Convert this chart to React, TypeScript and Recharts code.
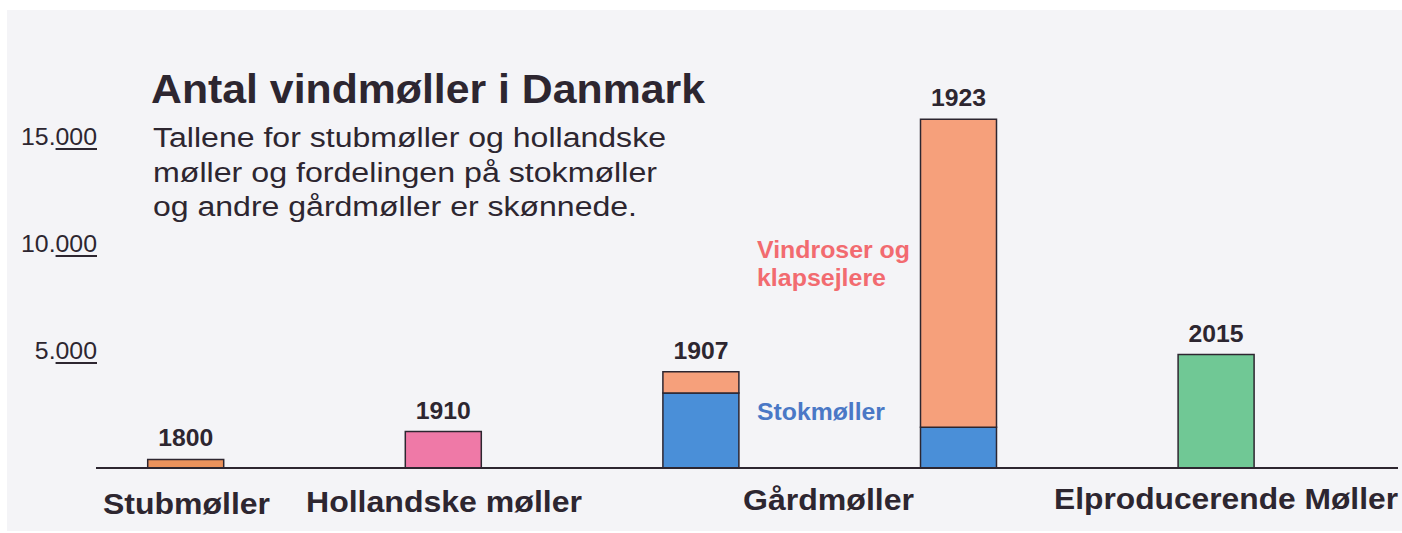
import { Bar, BarChart, Cell, LabelList, XAxis, YAxis } from 'recharts'

// Antal vindmøller i Danmark (skønnede tal)
const years = ['1800', '1910', '1907', '1923', '2015']
const stokmoller = [0, 0, 3500, 1900, 0]
const ovrige = [400, 1700, 1000, 14400, 5300]
const yTicks = [5000, 10000, 15000]

const groupLabels = ['Stubmøller', 'Hollandske møller', 'Gårdmøller', 'Elproducerende Møller']
const subtitle = [
  'Tallene for stubmøller og hollandske',
  'møller og fordelingen på stokmøller',
  'og andre gårdmøller er skønnede.',
]

const topColors = ['#eb925c', '#ef79a7', '#f6a07b', '#f6a07b', '#70c895']
const ink = '#2d2630'
const font = '"Liberation Sans", Arial, sans-serif'

const data = years.map((year, i) => ({ year, stok: stokmoller[i], top: ovrige[i] }))

const fmtTick = (v: number) => `${v / 1000}.000`
const digitW = 0.556
const dotW = 0.278

function YTick(props: any) {
  const { y, payload } = props
  const label = fmtTick(payload.value)
  const fs = 23
  const stretch = 1.08
  const natural = (label.length - 1) * digitW * fs + dotW * fs
  const right = 97
  const uw = 3 * digitW * fs * stretch
  return (
    <g>
      <text
        x={right}
        y={y - 2}
        textAnchor="end"
        fontFamily={font}
        fontSize={fs}
        fill={ink}
        textLength={natural * stretch}
        lengthAdjust="spacingAndGlyphs"
      >
        {label}
      </text>
      <line x1={right - uw} x2={right} y1={y + 2} y2={y + 2} stroke={ink} strokeWidth={2} />
    </g>
  )
}

function YearLabel(props: any) {
  const { x, y, width, value } = props
  return (
    <text
      x={x + width / 2}
      y={y - 13}
      textAnchor="middle"
      fontFamily={font}
      fontWeight="bold"
      fontSize={23}
      fill={ink}
      textLength={55}
      lengthAdjust="spacingAndGlyphs"
    >
      {value}
    </text>
  )
}

export default function App() {
  return (
    <div style={{ position: 'absolute', left: 0, top: 0, width: 1402, height: 533, background: '#ffffff' }}>
      <div
        style={{ position: 'absolute', left: 7, top: 10, width: 1395, height: 521, background: '#f4f4f7' }}
      />
      <div style={{ position: 'absolute', left: 0, top: 0 }}>
        <BarChart
          width={1402}
          height={533}
          data={data}
          margin={{ top: 93.5, right: 4, bottom: 0, left: 0 }}
          barSize={76}
        >
          <XAxis
            dataKey="year"
            tick={false}
            tickLine={false}
            axisLine={{ stroke: ink, strokeWidth: 2 }}
            height={65}
            padding={{ left: -39.3, right: 53.3 }}
          />
          <YAxis
            width={96}
            domain={[0, 17500]}
            ticks={yTicks}
            axisLine={false}
            tickLine={false}
            tick={<YTick />}
          />
          <Bar dataKey="stok" stackId="a" fill="#4a8fd8" stroke={ink} strokeWidth={1.5} isAnimationActive={false} />
          <Bar dataKey="top" stackId="a" stroke={ink} strokeWidth={1.5} isAnimationActive={false}>
            {data.map((_, i) => (
              <Cell key={i} fill={topColors[i]} />
            ))}
            <LabelList dataKey="year" content={<YearLabel />} />
          </Bar>
        </BarChart>
      </div>
      <svg
        width={1402}
        height={533}
        style={{ position: 'absolute', left: 0, top: 0, pointerEvents: 'none' }}
        fontFamily={font}
      >
        <text x={151} y={103} fontSize={40} fontWeight="bold" fill={ink} textLength={554} lengthAdjust="spacingAndGlyphs">
          Antal vindmøller i Danmark
        </text>
        {subtitle.map((line, i) => (
          <text
            key={i}
            x={153}
            y={147 + i * 34.5}
            fontSize={27}
            fill={ink}
            textLength={[513, 504, 484][i]}
            lengthAdjust="spacingAndGlyphs"
          >
            {line}
          </text>
        ))}
        <text x={757} y={258} fontSize={24.5} fontWeight="bold" fill="#f26b70" textLength={153} lengthAdjust="spacingAndGlyphs">
          Vindroser og
        </text>
        <text x={757} y={286} fontSize={24.5} fontWeight="bold" fill="#f26b70" textLength={129} lengthAdjust="spacingAndGlyphs">
          klapsejlere
        </text>
        <text x={757} y={420} fontSize={23} fontWeight="bold" fill="#4a78c6" textLength={128} lengthAdjust="spacingAndGlyphs">
          Stokmøller
        </text>
        <text x={103} y={514} fontSize={29} fontWeight="bold" fill={ink} textLength={167} lengthAdjust="spacingAndGlyphs">
          {groupLabels[0]}
        </text>
        <text x={306} y={512} fontSize={29} fontWeight="bold" fill={ink} textLength={276} lengthAdjust="spacingAndGlyphs">
          {groupLabels[1]}
        </text>
        <text x={743} y={510} fontSize={29} fontWeight="bold" fill={ink} textLength={171} lengthAdjust="spacingAndGlyphs">
          {groupLabels[2]}
        </text>
        <text x={1054} y={509} fontSize={29} fontWeight="bold" fill={ink} textLength={344} lengthAdjust="spacingAndGlyphs">
          {groupLabels[3]}
        </text>
      </svg>
    </div>
  )
}
